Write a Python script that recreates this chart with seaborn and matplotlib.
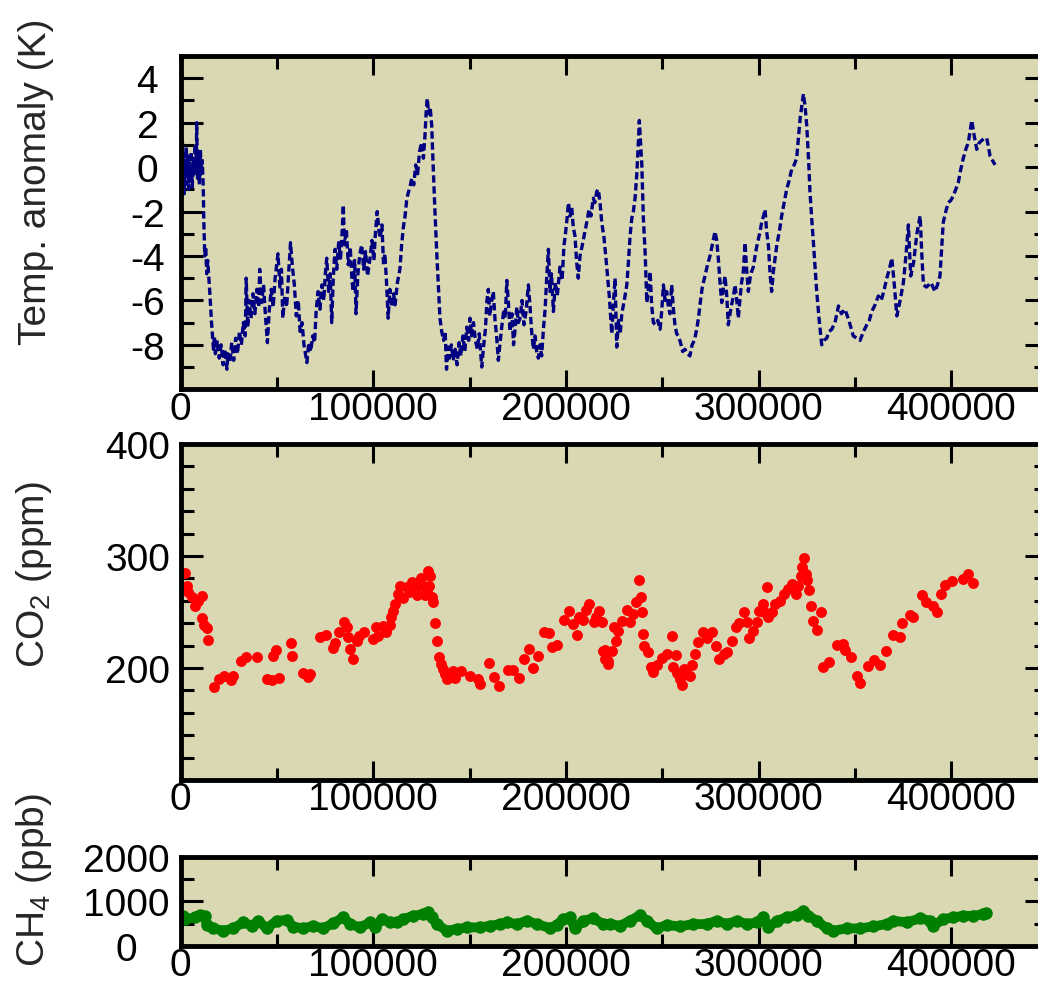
import matplotlib
matplotlib.use("Agg")
import matplotlib.pyplot as plt
import seaborn as sns
from matplotlib.ticker import FixedLocator, StrMethodFormatter

# =========================
# DATA
# =========================

# years before present, temperature anomaly (K)
temp_points = [
    (0, -1.5), (300, 0.8), (600, -1.0), (900, 1.2), (1200, -0.5), (1500, 0.6),
    (1800, -1.2), (2100, 0.3), (2500, -0.8), (2900, 0.9), (3300, -0.4), (3700, 0.5),
    (4100, -1.0), (4500, 0.2), (5000, -0.6), (5500, 0.7), (6000, -0.9), (6500, 0.4),
    (7000, -0.3), (7500, 1.0), (8000, -0.2), (8300, 2.0), (8700, -0.5), (9200, 0.6),
    (9700, -0.8), (10200, 0.8), (10700, -0.3), (11200, 0.3), (11700, -0.9),
    (12000, -2.5), (12500, -4.0), (13000, -3.6), (13500, -4.8), (14000, -4.2),
    (15000, -5.5), (16000, -7.0), (17000, -8.2), (17500, -7.6), (18000, -8.4),
    (19000, -7.8), (20000, -8.6), (21000, -8.0), (22000, -8.9), (23000, -8.2),
    (24000, -9.1), (24500, -8.4), (25500, -8.8), (26500, -7.9), (27500, -8.7),
    (28500, -7.7), (29500, -8.4), (30500, -7.4), (31500, -8.0), (32500, -7.0),
    (33500, -7.6), (34000, -5.0), (34800, -7.2), (35500, -6.0), (36500, -6.8),
    (37500, -5.7), (38500, -6.6), (39500, -5.5), (40500, -6.3), (41000, -4.6),
    (42000, -6.1), (43000, -5.3), (44000, -6.7), (45000, -7.9), (46000, -6.4),
    (47000, -5.5), (48000, -6.3), (49000, -5.0), (50500, -3.9), (51500, -5.4),
    (52300, -4.6), (53000, -6.8), (54000, -5.8), (55000, -6.3), (56000, -4.8),
    (57000, -3.4), (58000, -4.5), (59000, -5.3), (60000, -6.7), (61000, -6.0),
    (62000, -7.4), (63000, -7.0), (64000, -8.0), (65500, -8.8), (66500, -7.9),
    (67500, -8.3), (68500, -7.6), (69500, -7.9), (70300, -6.5), (71300, -5.6),
    (72300, -6.4), (73300, -5.3), (74300, -6.0), (75000, -4.9), (75800, -4.1),
    (76800, -5.6), (77600, -4.8), (78400, -7.0), (79200, -5.0), (80100, -3.7),
    (81000, -4.6), (82000, -3.4), (83000, -4.1), (84000, -2.6), (84400, -1.7),
    (85000, -3.5), (86000, -2.8), (87000, -4.4), (88000, -3.6), (89000, -5.2),
    (89600, -5.6), (90300, -4.2), (91000, -6.6), (92000, -4.8), (93000, -3.9),
    (94000, -3.5), (95000, -4.6), (96000, -3.8), (97000, -4.9), (98300, -4.1),
    (99300, -3.3), (100300, -4.2), (101000, -3.1), (102000, -2.0), (103000, -2.9),
    (103500, -3.2), (104500, -2.6), (105300, -4.4), (106000, -3.9), (106800, -5.1),
    (107700, -6.8), (108600, -5.5), (109500, -6.3), (110500, -5.7), (111300, -6.2),
    (112500, -5.2), (113800, -4.6), (114700, -3.5), (115600, -2.7), (116500, -2.2),
    (117300, -1.5), (118000, -1.2), (119000, -0.9), (120000, -0.5), (121000, -0.8),
    (122000, 0.1), (123000, -0.3), (124000, 0.7), (125000, 1.1), (126000, 0.4),
    (126800, 1.4), (127500, 2.6), (128000, 3.1), (128700, 2.4), (129500, 2.7),
    (130300, 1.9), (131000, 0.2), (132000, -2.0), (133000, -4.0), (134000, -5.8),
    (134600, -6.8), (135500, -7.4), (136500, -7.8), (137300, -7.4), (138000, -9.1),
    (138800, -8.1), (139600, -8.6), (140500, -8.0), (141500, -8.7), (142500, -8.2),
    (143500, -8.9), (144500, -7.9), (145500, -8.5), (146500, -7.6), (147500, -8.3),
    (148500, -7.2), (149500, -7.8), (150200, -6.8), (151000, -7.6), (152000, -7.0),
    (153000, -7.8), (154000, -8.2), (155000, -7.5), (156300, -9.0), (157200, -8.1),
    (158200, -7.3), (159000, -6.0), (159700, -5.5), (160500, -6.7), (161300, -6.1),
    (162300, -5.6), (163200, -6.9), (164000, -7.6), (164900, -8.7), (165800, -7.9),
    (166800, -7.1), (167800, -6.4), (168500, -6.8), (169300, -5.1), (170200, -6.2),
    (171000, -7.4), (172000, -6.6), (172800, -8.0), (173700, -7.2), (174500, -6.3),
    (175300, -7.0), (176200, -6.8), (177200, -6.0), (178200, -7.1), (179300, -6.5),
    (180500, -5.3), (181300, -6.2), (182200, -7.4), (183100, -8.2), (184000, -7.6),
    (184800, -8.3), (185700, -8.6), (186500, -8.0), (187400, -8.5), (188300, -7.3),
    (189200, -6.4), (190000, -5.0), (190900, -3.7), (191700, -5.6), (192500, -4.8),
    (193500, -6.5), (194500, -5.2), (195500, -5.8), (196900, -4.5), (198000, -5.1),
    (199000, -3.5), (199500, -3.2), (200500, -2.4), (201300, -1.6), (202200, -2.2),
    (203000, -1.8), (203800, -2.7), (204700, -3.1), (205500, -4.2), (206400, -5.0),
    (207300, -4.0), (208300, -3.6), (209900, -2.9), (211000, -2.4), (212000, -1.9),
    (213000, -2.2), (214200, -1.4), (215000, -1.6), (216000, -1.1), (216800, -1.0),
    (217700, -1.6), (218600, -2.5), (219800, -3.2), (221200, -4.5), (222500, -5.8),
    (223800, -7.5), (224600, -6.2), (225500, -5.0), (226400, -8.1), (227300, -6.9),
    (228200, -7.5), (229000, -6.6), (230300, -6.0), (231600, -5.3), (232500, -4.2),
    (233300, -3.1), (234200, -2.3), (235000, -2.0), (235900, -1.4), (236800, -0.3),
    (237600, 1.1), (238100, 2.1), (238800, 1.0), (239400, 0.1), (240200, -2.3),
    (241100, -3.8), (242000, -6.1), (242800, -5.5), (243700, -4.7), (244500, -6.2),
    (245400, -7.0), (246500, -7.1), (247700, -6.9), (248900, -7.3), (249800, -6.4),
    (250600, -5.3), (251500, -6.0), (252300, -5.6), (253200, -6.3), (254000, -6.6),
    (254900, -5.3), (255800, -6.4), (256600, -7.1), (257500, -7.5), (258400, -7.6),
    (259500, -7.9), (260600, -8.3), (261800, -8.2), (263000, -8.4), (264400, -8.5),
    (265500, -8.0), (266700, -7.8), (267900, -7.3), (268800, -6.8), (269600, -6.2),
    (270800, -5.4), (272200, -4.9), (273500, -4.4), (274800, -4.0), (276000, -3.5),
    (277400, -2.9), (278300, -3.3), (279100, -4.1), (280000, -5.2), (280900, -6.1),
    (281800, -5.4), (282600, -4.9), (283500, -5.8), (284300, -7.1), (285200, -6.6),
    (286000, -6.2), (287000, -5.8), (287800, -5.3), (288700, -6.0), (289500, -6.8),
    (290400, -5.9), (291200, -5.2), (292100, -4.7), (293000, -3.4), (293800, -4.6),
    (294700, -5.6), (295600, -5.0), (296400, -4.7), (297300, -4.5), (298200, -4.0),
    (299000, -3.6), (300000, -3.2), (300800, -2.9), (301800, -2.4), (302600, -2.2),
    (303400, -1.9), (304200, -2.9), (305100, -3.5), (306000, -4.8), (306800, -5.6),
    (307700, -4.7), (308600, -4.1), (309500, -3.5), (310800, -2.9), (312000, -2.2),
    (313300, -1.6), (314600, -1.0), (315900, -0.6), (317200, -0.1), (318500, 0.1),
    (319800, 0.4), (320700, 1.3), (321600, 2.2), (322500, 2.8), (323300, 3.3),
    (324200, 2.7), (325000, 1.9), (326000, 0.3), (326700, -1.1), (327600, -2.3),
    (328500, -3.4), (329400, -4.6), (330200, -5.6), (331500, -6.9), (332800, -8.0),
    (334000, -7.8), (335400, -7.7), (336700, -7.4), (338000, -7.3), (339700, -7.0),
    (341500, -6.25), (343000, -6.6), (344900, -6.4), (346900, -6.9), (349200, -7.6),
    (351000, -7.7), (352700, -7.8), (354500, -7.4), (356200, -7.1), (357500, -6.9),
    (358800, -6.5), (360500, -6.2), (362200, -5.8), (363700, -6.0), (365000, -5.6),
    (366600, -5.0), (367900, -4.6), (369200, -4.1), (370500, -5.3), (371800, -6.7),
    (373500, -6.0), (375200, -5.2), (376500, -4.0), (377800, -2.6), (379000, -4.9),
    (380500, -4.3), (382200, -3.0), (383900, -2.2), (384700, -3.8), (385600, -5.3),
    (387200, -5.4), (389500, -5.2), (391600, -5.6), (392900, -5.3), (394200, -4.9),
    (395900, -2.5), (397200, -2.0), (398500, -1.6), (399800, -1.5), (401100, -1.3),
    (402400, -1.0), (403700, -0.7), (405000, -0.1), (406300, 0.4), (407600, 0.8),
    (408900, 1.1), (409800, 1.6), (410700, 2.1), (412000, 1.4), (413300, 0.8),
    (414600, 1.1), (415900, 1.2), (417200, 1.3), (418500, 1.3), (419400, 0.9),
    (420200, 0.5), (421500, 0.3), (422800, 0.1),
]

# years before present, CO2 (ppm)
co2_points = [
    (2200, 284.5), (3400, 273.5), (3900, 268), (5700, 263), (7400, 255.6), (9100, 260),
    (10900, 264), (11200, 244.6), (11900, 238), (13500, 236), (14000, 225),
    (17500, 182.8), (19900, 190), (22700, 192.6), (26100, 189.6), (27400, 192.6),
    (31300, 206), (33900, 209.5), (39800, 209.5), (44600, 190), (47200, 189.6),
    (48100, 210.4), (49500, 216), (51200, 190.8), (57100, 222.3), (58000, 210.4),
    (63700, 196), (65900, 191.7), (66900, 195), (72300, 227.4), (75300, 229.5),
    (79300, 217.6), (80100, 222.3), (82400, 231.8), (84800, 241.4), (86200, 236.3),
    (86900, 227.4), (87900, 217), (89300, 208), (91400, 224.4), (92600, 228.9),
    (95300, 232.4), (99700, 225.9), (101400, 236.3), (102600, 228.9), (105200, 237.2),
    (106600, 231.8), (108700, 238.7), (109000, 245.8), (110400, 251.2), (111300, 257.1),
    (112700, 266), (113900, 273.5), (115600, 262.2), (117300, 272), (118700, 267.5),
    (119900, 276.5), (121600, 271.4), (122800, 264.9), (123900, 276.5), (124600, 280),
    (126000, 273.5), (126800, 264.9), (127700, 269.3), (128600, 286.9), (129400, 282.4),
    (129100, 273.5), (130300, 263), (130800, 258.6), (132000, 240.2), (133200, 224.1),
    (134300, 209.5), (134900, 203.6), (136000, 199), (137200, 194.6), (138400, 190.2),
    (141200, 197.6), (142400, 190.8), (145400, 197.6), (150200, 192.6), (154500, 190),
    (155400, 185.7), (160200, 204.5), (162800, 192.3), (165300, 184), (169800, 198),
    (172700, 198), (175800, 190.8), (178200, 208), (181000, 217), (183100, 199.7),
    (185400, 211), (188600, 231.8), (191400, 231.3), (192600, 218.5), (195500, 220.5),
    (199000, 242.9), (201800, 251.2), (203500, 239.3), (205900, 229.5), (206600, 246),
    (209000, 243), (210400, 252), (212100, 257.1), (214600, 240.8), (215600, 246),
    (217300, 251.2), (218500, 241.4), (219400, 215.4), (220300, 208), (222000, 203.6),
    (220300, 216.2), (222000, 206.5), (223800, 215.4), (225000, 236.3), (226000, 224.4),
    (227200, 233), (229000, 242.3), (231600, 252), (233300, 240.8), (234900, 248),
    (236400, 259.2), (238100, 278.8), (238800, 263.7), (239400, 250.3), (240200, 230.4),
    (240700, 219.4), (242800, 214), (244000, 200.6), (245100, 196.1), (247100, 202.8),
    (249700, 208.8), (252300, 212.5), (255200, 228.3), (257200, 212), (255800, 200.6),
    (257800, 196), (259200, 190.2), (260100, 184.8), (261300, 199), (262400, 196),
    (264500, 193.1), (265300, 202.8), (267000, 212.5), (268700, 223.5), (271000, 231.8),
    (273400, 226.4), (275700, 231.8), (277900, 219.9), (279700, 208), (282100, 212.5),
    (283500, 214.5), (286400, 224.4), (288300, 236.3), (289900, 240), (292500, 250.3),
    (293900, 241.4), (295100, 226.8), (297000, 233), (299000, 241.4), (300400, 251.2),
    (302200, 257.1), (302900, 250), (304200, 272.6), (305100, 245.5), (306800, 250),
    (308600, 256.8), (311200, 260.2), (313400, 266), (315500, 270.5), (317200, 275),
    (319500, 266), (320700, 273.5), (322000, 282.4), (322700, 290), (323600, 298.2),
    (324500, 284), (325300, 278.8), (326400, 270), (327100, 255.6), (328100, 242.3),
    (330200, 234.2), (332300, 250.3), (333700, 200.6), (336800, 205.6), (340600, 220.5),
    (343700, 221.4), (344900, 216), (347900, 209.5), (351000, 193.1), (352700, 186.6),
    (357000, 201.5), (360000, 207.4), (363100, 202.8), (366200, 214.9), (370000, 229.5),
    (373500, 227.4), (374700, 240.2), (378700, 247.3), (380100, 246), (384700, 265.2),
    (387000, 259.2), (390400, 255.6), (392500, 250.3), (394600, 266), (396800, 273.8),
    (400300, 278), (406000, 279.5), (408900, 283.9), (411200, 275.9),
]

# years before present, CH4 (ppb)
ch4_points = [
    (1400, 675), (2400, 600), (7400, 637), (10000, 690), (12600, 660), (13500, 466),
    (16900, 390), (22100, 338), (27300, 390), (32500, 526), (36900, 450), (40300, 563),
    (44600, 390), (49800, 563), (55000, 578), (58500, 428), (63700, 390), (68800, 450),
    (74000, 390), (79200, 510), (84400, 638), (87900, 488), (93100, 413), (98300, 526),
    (101000, 413), (104400, 600), (108700, 526), (112200, 526), (115600, 600),
    (120800, 675), (126000, 713), (128600, 765), (130300, 638), (132900, 488),
    (138100, 338), (143300, 375), (148500, 413), (155400, 413), (160600, 450),
    (165800, 488), (169300, 526), (174500, 488), (179600, 563), (184800, 488),
    (191700, 398), (195200, 466), (198600, 600), (202100, 638), (204700, 390),
    (209000, 563), (214200, 615), (219400, 488), (222900, 488), (228100, 450),
    (233300, 563), (238500, 690), (241900, 563), (247100, 390), (252300, 466),
    (259200, 435), (266100, 488), (273100, 488), (278200, 563), (283500, 488),
    (288700, 563), (293900, 488), (299000, 526), (302500, 638), (305100, 413),
    (309500, 563), (314600, 638), (319800, 690), (323300, 788), (325900, 675),
    (330200, 563), (335400, 390), (338800, 338), (345800, 390), (352700, 390),
    (359600, 435), (366600, 488), (370000, 563), (376900, 526), (383900, 615),
    (389000, 563), (390800, 450), (396000, 600), (401100, 638), (406300, 675),
    (411500, 675), (416700, 713), (418100, 728),
]

temp_age, temp_k = zip(*temp_points)
co2_age, co2_ppm = zip(*co2_points)
ch4_age, ch4_ppb = zip(*ch4_points)

# =========================
# STYLE
# =========================

sns.set_style("ticks")
plt.rcParams["font.family"] = ["Liberation Sans", "DejaVu Sans"]
plt.rcParams["axes.unicode_minus"] = False

BG = "#d9d8b3"
FS = 28

fig = plt.figure(figsize=(10.38, 9.87), dpi=100)

left, width = 0.1741, 0.835
ax1 = fig.add_axes([left, 0.6046, width, 0.3376])
ax2 = fig.add_axes([left, 0.2087, width, 0.3404])
ax3 = fig.add_axes([left, 0.0408, width, 0.0900])

# =========================
# PANELS
# =========================

sns.lineplot(x=list(temp_age), y=list(temp_k), ax=ax1, sort=False, estimator=None,
             color="#000080", linewidth=2.4, linestyle=(0, (2.2, 1.1)))

sns.scatterplot(x=list(co2_age), y=list(co2_ppm), ax=ax2, color="#ff0000",
                s=62, linewidth=0)

sns.lineplot(x=list(ch4_age), y=list(ch4_ppb), ax=ax3, sort=False, estimator=None,
             color="#008000", linewidth=7, marker="o", markersize=9,
             markeredgewidth=0)

# =========================
# AXES FORMATTING
# =========================

panels = [
    (ax1, (-10, 5), list(range(-8, 5, 2)), list(range(-9, 6)), 24,
     "Temp. anomaly (K)", 0.8156),
    (ax2, (100, 400), [200, 300, 400], list(range(100, 401, 20)), 31,
     r"CO$_\mathregular{2}$ (ppm)", 0.4174),
    (ax3, (0, 2000), [0, 1000, 2000], [500, 1500], 39.5,
     r"CH$_\mathregular{4}$ (ppb)", 0.1084),
]

for ax, ylim, ymaj, ymin, ypad, label, label_y in panels:
    ax.set_facecolor(BG)
    ax.set_xlim(0, 450000)
    ax.set_ylim(*ylim)
    for s in ax.spines.values():
        s.set_visible(True)
        s.set_linewidth(3.5)
        s.set_color("black")

    ax.xaxis.set_major_locator(FixedLocator([0, 100000, 200000, 300000, 400000]))
    ax.xaxis.set_minor_locator(FixedLocator([50000, 150000, 250000, 350000]))
    ax.xaxis.set_major_formatter(StrMethodFormatter("{x:.0f}"))
    ax.yaxis.set_major_locator(FixedLocator(ymaj))
    ax.yaxis.set_minor_locator(FixedLocator(ymin))
    ax.yaxis.set_major_formatter(StrMethodFormatter("{x:.0f}"))

    ax.tick_params(axis="both", which="both", direction="in",
                   top=True, right=True, width=2.2, colors="black")
    ax.tick_params(axis="x", which="major", length=14, pad=1, labelsize=FS)
    ax.tick_params(axis="x", which="minor", length=9)
    ax.tick_params(axis="y", which="major", length=16, pad=ypad, labelsize=FS)
    ax.tick_params(axis="y", which="minor", length=9.5)
    plt.setp(ax.get_yticklabels(), ha="center")

    ax.set_xlabel("")
    ax.set_ylabel(label, fontsize=FS)
    ax.yaxis.set_label_coords(0.052, label_y, transform=fig.transFigure)

plt.savefig("out.png", dpi=100)
